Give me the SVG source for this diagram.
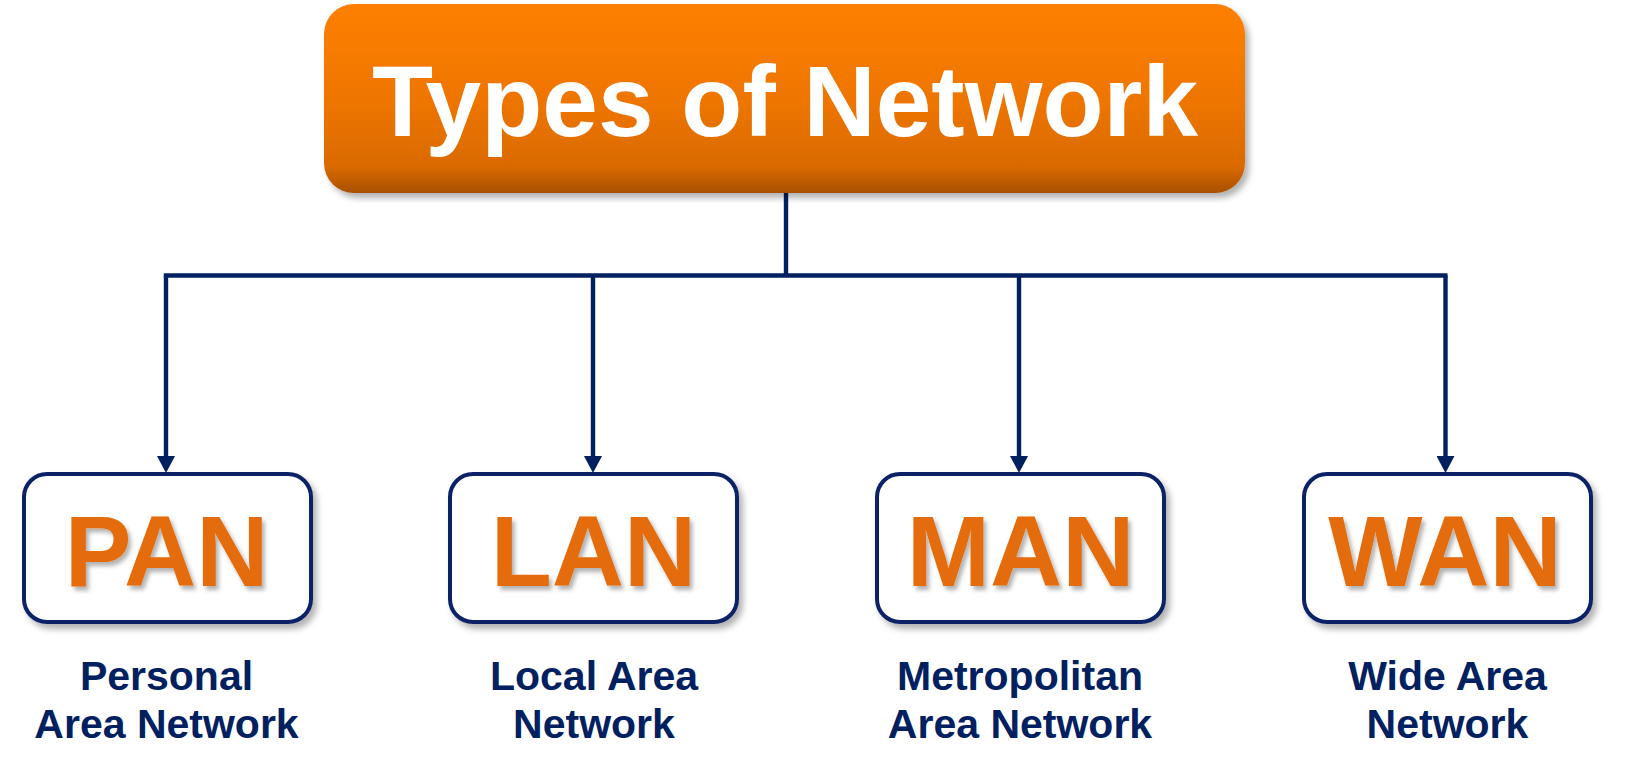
<svg xmlns="http://www.w3.org/2000/svg" width="1638" height="774" viewBox="0 0 1638 774">
  <style>
    .title { font-family: "Liberation Sans", Arial, sans-serif; font-weight: bold; font-size: 100px; fill: #ffffff; text-anchor: middle; }
    .abbr { font-family: "Liberation Sans", Arial, sans-serif; font-weight: bold; font-size: 100px; fill: #E46C0A; text-anchor: middle; filter: url(#txtShadow); }
    .label { font-family: "Liberation Sans", Arial, sans-serif; font-weight: bold; font-size: 41px; fill: #002060; text-anchor: middle; }
    .box { fill: #ffffff; stroke: #0B2466; stroke-width: 4; filter: url(#boxShadow); }
    .conn { fill: none; stroke: #002060; stroke-width: 4.4; }
  </style>
  <defs>
    <linearGradient id="orangeGrad" x1="0" y1="0" x2="0" y2="1">
      <stop offset="0" stop-color="#FF8000"/>
      <stop offset="0.55" stop-color="#EC7400"/>
      <stop offset="0.86" stop-color="#DA6A00"/>
      <stop offset="1" stop-color="#A85000"/>
    </linearGradient>
    <filter id="boxShadow" x="-10%" y="-10%" width="125%" height="130%">
      <feDropShadow dx="4" dy="5" stdDeviation="3" flood-color="#000000" flood-opacity="0.3"/>
    </filter>
    <filter id="txtShadow" x="-10%" y="-10%" width="125%" height="130%">
      <feDropShadow dx="3" dy="4" stdDeviation="2" flood-color="#000000" flood-opacity="0.3"/>
    </filter>
    <marker id="arrow" viewBox="0 0 17 18" refX="0" refY="9" markerWidth="17" markerHeight="18" markerUnits="userSpaceOnUse" orient="auto">
      <path d="M0,0 L17,9 L0,18 z" fill="#002060"/>
    </marker>
  </defs>

  <g id="connectors">
    <path class="conn" d="M786,193 V275.5"/>
    <path class="conn" d="M163.8,275.5 H1447.5"/>
    <path class="conn" d="M166,275.5 V456" marker-end="url(#arrow)"/>
    <path class="conn" d="M593,275.5 V456" marker-end="url(#arrow)"/>
    <path class="conn" d="M1019,275.5 V456" marker-end="url(#arrow)"/>
    <path class="conn" d="M1445.5,275.5 V456" marker-end="url(#arrow)"/>
  </g>

  <g id="node-title">
    <rect x="324" y="4" width="921" height="189" rx="30" ry="30" fill="url(#orangeGrad)" filter="url(#boxShadow)"/>
    <text class="title" x="785" y="136">Types of Network</text>
  </g>

  <g id="node-pan">
    <rect class="box" x="24" y="474" width="287" height="148" rx="23" ry="23"/>
    <text class="abbr" x="166.5" y="586">PAN</text>
    <text class="label" x="166.5" y="690">Personal</text>
    <text class="label" x="166.5" y="738">Area Network</text>
  </g>

  <g id="node-lan">
    <rect class="box" x="450" y="474" width="287" height="148" rx="23" ry="23"/>
    <text class="abbr" x="593.5" y="586">LAN</text>
    <text class="label" x="594" y="690">Local Area</text>
    <text class="label" x="594" y="738">Network</text>
  </g>

  <g id="node-man">
    <rect class="box" x="877" y="474" width="287" height="148" rx="23" ry="23"/>
    <text class="abbr" x="1020.5" y="586">MAN</text>
    <text class="label" x="1020" y="690">Metropolitan</text>
    <text class="label" x="1020" y="738">Area Network</text>
  </g>

  <g id="node-wan">
    <rect class="box" x="1304" y="474" width="287" height="148" rx="23" ry="23"/>
    <text class="abbr" x="1445" y="586">WAN</text>
    <text class="label" x="1447.5" y="690">Wide Area</text>
    <text class="label" x="1447.5" y="738">Network</text>
  </g>
</svg>
